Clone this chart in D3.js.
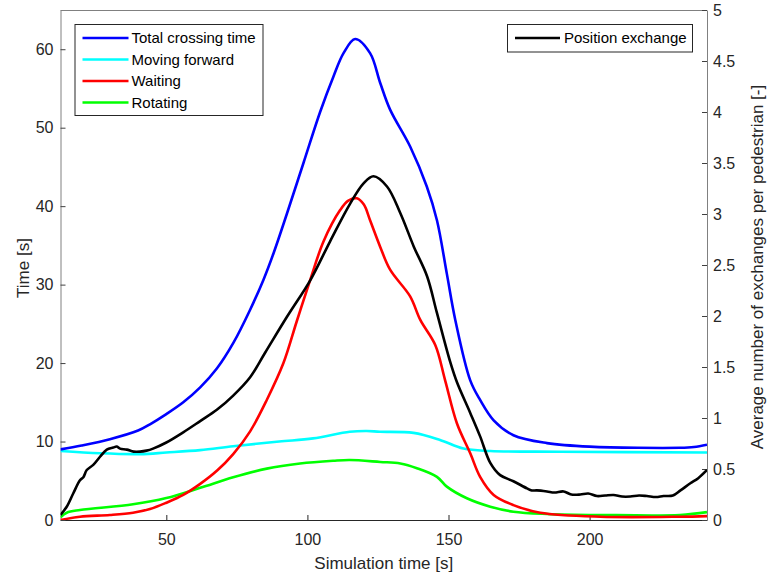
<!DOCTYPE html>
<html>
<head>
<meta charset="utf-8">
<script src="https://cdn.jsdelivr.net/npm/d3@7"></script>
<style>
  body { margin: 0; background: #fff; }
  text { font-family: "Liberation Sans", Arial, sans-serif; }
</style>
</head>
<body>
<div id="chart"></div>
<script>
// ---- data ----
const totalT = [12.5, 20, 30, 40, 44.2, 50, 56, 62, 67.9, 73.8, 79.7, 84.4, 88, 92.7, 98.6, 104.5, 109.2, 112.8, 116.9, 122.2, 125.8, 129.3, 136.4, 142.3, 145.9, 149.4, 152.4, 157.7, 161.2, 166, 173, 184.9, 200, 232, 237, 241.6];
const totalV = [9.0, 9.5, 10.3, 11.4, 12.2, 13.5, 15.0, 16.9, 19.3, 22.6, 26.8, 30.6, 34.0, 39.0, 45.5, 52.0, 56.5, 59.5, 61.3, 59.5, 55.7, 52.3, 47.6, 42.5, 38.2, 31.4, 25.5, 17.8, 15.3, 12.7, 10.8, 9.8, 9.35, 9.2, 9.3, 9.6];

const forwardT = [12.5, 26.5, 40.7, 50, 62, 73.7, 90, 102, 115, 121, 125.7, 137.6, 147, 155.3, 164.8, 189.6, 241.6];
const forwardV = [8.8, 8.5, 8.4, 8.6, 8.9, 9.4, 10.0, 10.4, 11.25, 11.35, 11.25, 11.1, 10.2, 9.1, 8.8, 8.7, 8.6];

const waitT = [12.5, 19.4, 30, 38.2, 44.2, 50, 56, 62, 68, 73.7, 79.7, 85.6, 91.5, 96.2, 101, 105.7, 111.6, 114.5, 117.5, 120, 122.2, 125.8, 129.3, 136.4, 140, 145.3, 148.8, 153, 157.7, 161.2, 166, 173, 182.5, 203.8, 232, 241.6];
const waitV = [0.0, 0.42, 0.64, 0.93, 1.4, 2.2, 3.2, 4.6, 6.3, 8.4, 11.3, 15.3, 20.0, 25.3, 30.6, 35.5, 39.5, 40.7, 41.0, 40.2, 38.2, 34.8, 31.9, 28.5, 25.5, 22.3, 17.8, 12.3, 8.5, 5.5, 3.2, 1.9, 0.93, 0.42, 0.42, 0.5];

const rotT = [12.5, 14.7, 19.4, 38.2, 50, 62, 73.7, 85.6, 97.4, 109.1, 115, 125.8, 132.9, 138.8, 145.9, 149.4, 156.5, 164.8, 173, 184.9, 203.8, 232, 241.6];
const rotV = [0.35, 0.93, 1.27, 2.0, 2.8, 4.1, 5.45, 6.55, 7.2, 7.55, 7.65, 7.4, 7.2, 6.6, 5.5, 4.25, 2.77, 1.7, 1.06, 0.77, 0.64, 0.64, 1.0];

// position exchanges (right axis)
const exchT = [12.5, 14.7, 17, 19.4, 20.6, 21.8, 24.1, 26.5, 28.9, 31.2, 32.4, 33.6, 36, 38.4, 40.7, 43, 45.3, 50, 56, 62, 67.9, 73.7, 79.7, 85, 92.7, 101, 108, 115.1, 119.9, 123.4, 128.2, 132.9, 137.7, 142.4, 145.9, 150.6, 153, 157.7, 161.2, 164.8, 168.3, 173, 177.8, 179.5, 181.3, 184.9, 187.5, 190.8, 193.5, 196.7, 199.5, 202.6, 205.5, 208.5, 211.5, 214.4, 217.5, 220.3, 223.5, 226.2, 229.5, 232.2, 235.7, 238.5, 241.6];
const exchV = [0.05, 0.13, 0.26, 0.39, 0.42, 0.49, 0.54, 0.62, 0.69, 0.71, 0.72, 0.70, 0.69, 0.67, 0.67, 0.68, 0.70, 0.76, 0.86, 0.97, 1.08, 1.22, 1.40, 1.64, 1.99, 2.35, 2.73, 3.10, 3.30, 3.37, 3.27, 3.01, 2.68, 2.39, 2.03, 1.55, 1.35, 1.05, 0.82, 0.56, 0.44, 0.38, 0.31, 0.29, 0.29, 0.28, 0.27, 0.28, 0.25, 0.25, 0.26, 0.235, 0.24, 0.245, 0.23, 0.23, 0.24, 0.235, 0.225, 0.235, 0.24, 0.29, 0.36, 0.41, 0.49];

const xTicks = [50, 100, 150, 200];
const yTicks = [0, 10, 20, 30, 40, 50, 60];
const y2Ticks = [0, 0.5, 1, 1.5, 2, 2.5, 3, 3.5, 4, 4.5, 5];

const leftNames = ["Total crossing time", "Moving forward", "Waiting", "Rotating"];
const leftColors = ["#0000ff", "#00ffff", "#ff0000", "#00ff00"];

// set the dimensions and margins of the graph
const margin = { top: 10, right: 61, bottom: 57, left: 60.5 },
  width = 768 - margin.left - margin.right,
  height = 577 - margin.top - margin.bottom;

const svgRoot = d3.select("#chart")
  .append("svg")
  .attr("width", 768)
  .attr("height", 577);

const svg = svgRoot.append("g")
  .attr("transform", `translate(${margin.left},${margin.top})`);

const x = d3.scaleLinear().domain([12.5, 241.6]).range([0, width]);
const y = d3.scaleLinear().domain([0, 65]).range([height, 0]);
const y2 = d3.scaleLinear().domain([0, 5]).range([height, 0]);

// clip lines to plot area
svgRoot.append("defs").append("clipPath").attr("id", "clip")
  .append("rect").attr("x", 0).attr("y", -2).attr("width", width).attr("height", height + 2);

// box (top)
svg.append("line")
  .attr("x1", 0).attr("x2", width).attr("y1", 0.5).attr("y2", 0.5)
  .attr("stroke", "#808080").attr("stroke-width", 1);

const tickFont = "16px", titleFont = "17px";

// x axis
const gx = svg.append("g")
  .attr("transform", `translate(0, ${height})`)
  .call(d3.axisBottom(x).tickValues(xTicks).tickSize(-5).tickSizeOuter(0).tickPadding(14));
gx.select(".domain").attr("stroke", "#262626");
gx.selectAll(".tick line").attr("stroke", "#262626");
gx.selectAll("text").attr("fill", "#262626").style("font-size", tickFont);

// left y axis
const gy = svg.append("g")
  .call(d3.axisLeft(y).tickValues(yTicks).tickSize(-5).tickSizeOuter(0).tickPadding(7));
gy.select(".domain").attr("stroke", "#808080");
gy.selectAll(".tick line").attr("stroke", "#404040");
gy.selectAll("text").attr("fill", "#262626").style("font-size", tickFont);

// right y axis
const gy2 = svg.append("g")
  .attr("transform", `translate(${width}, 0)`)
  .call(d3.axisRight(y2).tickValues(y2Ticks).tickSize(-5).tickSizeOuter(0).tickPadding(6)
    .tickFormat(d3.format("~g")));
gy2.select(".domain").attr("stroke", "#808080");
gy2.selectAll(".tick line").attr("stroke", "#404040");
gy2.selectAll("text").attr("fill", "#262626").style("font-size", tickFont);

// axis titles
svg.append("text")
  .attr("x", width / 2).attr("y", height + 49)
  .attr("text-anchor", "middle")
  .attr("fill", "#262626")
  .style("font-size", titleFont)
  .text("Simulation time [s]");

svg.append("text")
  .attr("transform", `translate(${-31.5}, ${258}) rotate(-90)`)
  .attr("text-anchor", "middle")
  .attr("fill", "#262626")
  .style("font-size", titleFont)
  .text("Time [s]");

svg.append("text")
  .attr("transform", `translate(${width + 55.5}, ${257}) rotate(-90)`)
  .attr("text-anchor", "middle")
  .attr("fill", "#262626")
  .style("font-size", titleFont)
  .text("Average number of exchanges per pedestrian [-]");

// lines
const plot = svg.append("g").attr("clip-path", "url(#clip)");

function drawLine(ts, vs, scaleY, color) {
  const pts = ts.map((t, i) => [t, vs[i]]);
  plot.append("path")
    .datum(pts)
    .attr("fill", "none")
    .attr("stroke", color)
    .attr("stroke-width", 2.6)
    .attr("stroke-linejoin", "round")
    .attr("d", d3.line()
      .x(d => x(d[0]))
      .y(d => scaleY(d[1]))
      .curve(d3.curveCatmullRom.alpha(0.5)));
}

drawLine(forwardT, forwardV, y, leftColors[1]);
drawLine(rotT, rotV, y, leftColors[3]);
drawLine(waitT, waitV, y, leftColors[2]);
drawLine(totalT, totalV, y, leftColors[0]);
drawLine(exchT, exchV, y2, "#000000");

// left legend
const leg = svg.append("g").attr("transform", `translate(${74.5 - margin.left}, ${24 - margin.top})`);
leg.append("rect")
  .attr("x", 0.5).attr("y", 0.5).attr("width", 188).attr("height", 91)
  .attr("fill", "#fff").attr("stroke", "#262626").attr("stroke-width", 1);
leg.selectAll("line.item")
  .data(leftNames)
  .join("line")
  .attr("x1", 8).attr("x2", 54)
  .attr("y1", (d, i) => 14 + i * 21.5).attr("y2", (d, i) => 14 + i * 21.5)
  .attr("stroke", (d, i) => leftColors[i])
  .attr("stroke-width", 2.6);
leg.selectAll("text.item")
  .data(leftNames)
  .join("text")
  .attr("x", 57)
  .attr("y", (d, i) => 14 + i * 21.5)
  .attr("dy", "0.35em")
  .attr("fill", "#000")
  .style("font-size", "15px")
  .text(d => d);

// right legend
const leg2 = svg.append("g").attr("transform", `translate(${507 - margin.left}, ${24 - margin.top})`);
leg2.append("rect")
  .attr("x", 0.5).attr("y", 0.5).attr("width", 185).attr("height", 27.5)
  .attr("fill", "#fff").attr("stroke", "#262626").attr("stroke-width", 1);
leg2.append("line")
  .attr("x1", 8).attr("x2", 53).attr("y1", 14).attr("y2", 14)
  .attr("stroke", "#000").attr("stroke-width", 2.6);
leg2.append("text")
  .attr("x", 57).attr("y", 14).attr("dy", "0.35em")
  .attr("fill", "#000")
  .style("font-size", "15px")
  .text("Position exchange");
</script>
</body>
</html>
